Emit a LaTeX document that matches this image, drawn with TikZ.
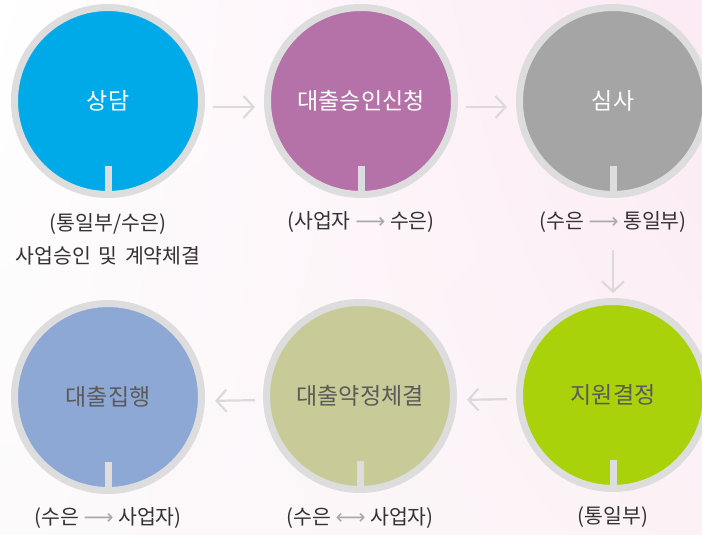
\documentclass[tikz,border=0pt]{standalone}
\usepackage{fontspec}
\setmainfont{Noto Sans CJK KR}
\newfontfamily\arrowfont{DejaVu Sans}
\usetikzlibrary{arrows.meta,calc,shadings}
\definecolor{ring}{RGB}{221,221,221}
\definecolor{connc}{RGB}{218,218,218}
\definecolor{arrc}{RGB}{170,170,170}
\definecolor{notec}{RGB}{51,51,51}
\definecolor{darktext}{RGB}{90,90,90}
\definecolor{cA}{RGB}{0,169,232}
\definecolor{cB}{RGB}{181,114,168}
\definecolor{cC}{RGB}{165,165,165}
\definecolor{cD}{RGB}{170,210,10}
\definecolor{cE}{RGB}{200,203,152}
\definecolor{cF}{RGB}{141,168,213}
\definecolor{bgw}{RGB}{252,250,251}
\definecolor{bgp}{RGB}{252,234,244}
\definecolor{bgq}{RGB}{252,242,246}
\newcommand\rarr{\textcolor{arrc}{\arrowfont\fontsize{21}{21}\selectfont ⟶}}
\newcommand\larr{\textcolor{arrc}{\arrowfont\fontsize{21}{21}\selectfont ⟷}}
\begin{document}
\begin{tikzpicture}[x=1pt,y=-1pt,
  stage/.style={circle,draw=ring,line width=7pt,minimum size=187pt,inner sep=0pt,font=\fontsize{23}{26}\selectfont},
  conn/.style={draw=connc,line width=2.2pt,-{Straight Barb[length=10pt,width=22pt]}},
  note/.style={font=\fontsize{20.5}{33}\selectfont,text=notec,align=center,inner sep=0pt}]
\useasboundingbox (0,0) rectangle (702,535);
\clip (0,0) rectangle (702,535);
\shade[upper left=white, upper right=bgp, lower left=bgw, lower right=bgq] (0,0) rectangle (702,535);

\node[stage,fill=cA,text=white] (s1) at (108,101) {상담};
\node[stage,fill=cB,text=white] (s2) at (361,101) {대출승인신청};
\node[stage,fill=cC,text=white] (s3) at (613,101) {심사};
\node[stage,fill=cD,text=darktext] (s4) at (613,395) {지원결정};
\node[stage,fill=cE,text=darktext] (s5) at (360,396) {대출약정체결};
\node[stage,fill=cF,text=darktext] (s6) at (108,397) {대출집행};

\foreach \s in {s1,s2,s3,s4,s5,s6}
  \fill[ring] ($(\s.center)+(-3.5,65)$) rectangle ($(\s.center)+(3.5,92)$);

\draw[conn,shorten <=8pt,shorten >=9pt] ([yshift=-6pt]s1.east) -- ([yshift=-6pt]s2.west);
\draw[conn,shorten <=8pt,shorten >=9pt] ([yshift=-6pt]s2.east) -- ([yshift=-6pt]s3.west);
\draw[conn,shorten <=52pt,shorten >=5pt] (s3.south) -- (s4.north);
\draw[conn,shorten <=9pt,shorten >=10pt] ([yshift=-4pt]s4.west) -- ([yshift=-4pt]s5.east);
\draw[conn,shorten <=8pt,shorten >=10pt] ([yshift=-4pt]s5.west) -- ([yshift=-4pt]s6.east);

\node[note] (n1) at (108,239) {(통일부/수은)\\사업승인\hspace{0.15em} 및\hspace{0.15em} 계약체결};
\node[note] (n2) at (361,222) {(사업자 \rarr{} 수은)};
\node[note] (n3) at (613,222) {(수은 \rarr{} 통일부)};
\node[note] (n4) at (613,517) {(통일부)};
\node[note] (n5) at (360,518) {(수은 \larr{} 사업자)};
\node[note] (n6) at (108,518) {(수은 \rarr{} 사업자)};
\end{tikzpicture}
\end{document}
